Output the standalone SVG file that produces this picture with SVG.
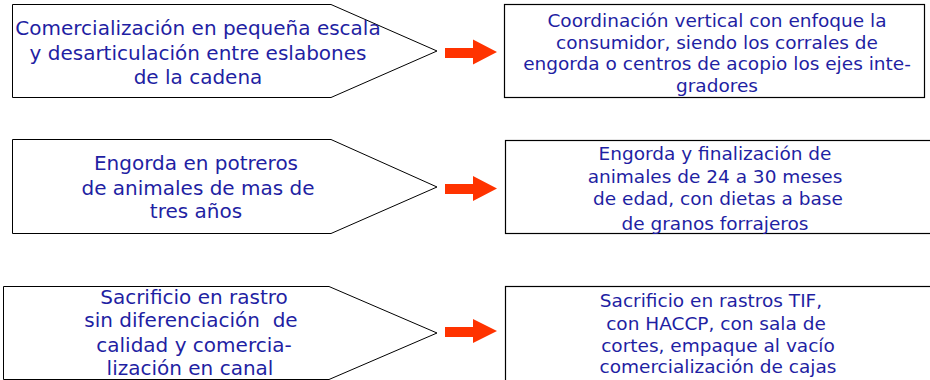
<svg xmlns="http://www.w3.org/2000/svg" width="930" height="380" viewBox="0 0 930 380">
<style>
.pent{fill:#ffffff;stroke:#000000;stroke-width:1}
.box{fill:#ffffff;stroke:#000000;stroke-width:1.2}
.arrow{fill:#ff3300;stroke:none}
text{font-family:"DejaVu Sans",Verdana,sans-serif;fill:#1f1fa3;text-anchor:middle}
.l{font-size:20px}
.r{font-size:18.5px}
.pre{white-space:pre}
</style>
<rect width="930" height="380" fill="#ffffff"/>
<g id="node-left-1">
<polygon class="pent" points="12.5,4.5 331,4.5 437,51 331,97.5 12.5,97.5"/>
<text class="l" x="198" y="35">Comercialización en pequeña escala</text>
<text class="l" x="198" y="59.5">y desarticulación entre eslabones</text>
<text class="l" x="198" y="84">de la cadena</text>
</g>
<g id="node-right-1">
<rect class="box" x="504.5" y="4.5" width="420" height="93"/>
<text class="r" x="717" y="27">Coordinación vertical con enfoque la</text>
<text class="r" x="717" y="48.5">consumidor, siendo los corrales de</text>
<text class="r" x="717" y="70">engorda o centros de acopio los ejes inte-</text>
<text class="r" x="717" y="92">gradores</text>
</g>
<g id="node-left-2">
<polygon class="pent" points="12.5,139.5 331,139.5 437,187 331,233.5 12.5,233.5"/>
<text class="l" x="196" y="170">Engorda en potreros</text>
<text class="l" x="198" y="195">de animales de mas de</text>
<text class="l" x="196" y="218">tres años</text>
</g>
<g id="node-right-2">
<rect class="box" x="505.5" y="140.5" width="430" height="93"/>
<text class="r" x="715" y="160">Engorda y finalización de</text>
<text class="r" x="715" y="183">animales de 24 a 30 meses</text>
<text class="r" x="718" y="205">de edad, con dietas a base</text>
<text class="r" x="715" y="230">de granos forrajeros</text>
</g>
<g id="node-left-3">
<polygon class="pent" points="3.5,286.5 329,286.5 437,333 329,379.5 3.5,379.5"/>
<text class="l" x="194" y="304">Sacrificio en rastro</text>
<text class="l pre" x="191" y="327" xml:space="preserve">sin diferenciación  de</text>
<text class="l" x="194" y="352">calidad y comercia-</text>
<text class="l" x="190" y="375">lización en canal</text>
</g>
<g id="node-right-3">
<rect class="box" x="505.5" y="286.5" width="430" height="100"/>
<text class="r" x="711" y="307">Sacrificio en rastros TIF,</text>
<text class="r" x="716" y="330">con HACCP, con sala de</text>
<text class="r" x="718" y="352">cortes, empaque al vacío</text>
<text class="r" x="718" y="373">comercialización de cajas</text>
</g>
<g id="connectors">
<polygon class="arrow" points="445,48 473,48 473,39.5 497,52 473,64.5 473,58 445,58"/>
<polygon class="arrow" points="445,184 473,184 473,176 497,188.5 473,201 473,194 445,194"/>
<polygon class="arrow" points="445,327 473,327 473,319 497,331 473,343 473,337 445,337"/>
</g>
</svg>
